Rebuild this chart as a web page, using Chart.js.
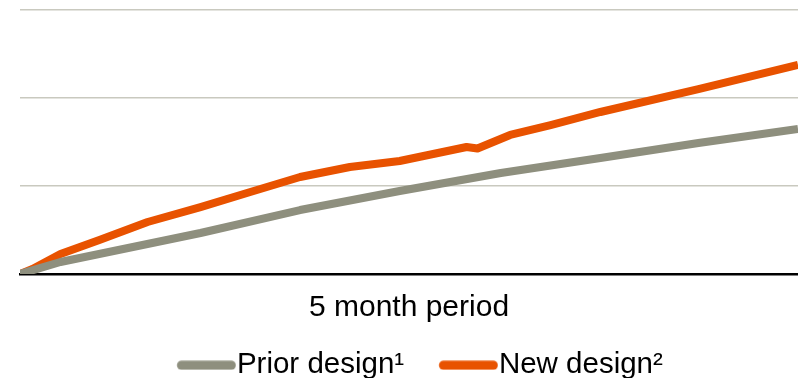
<!DOCTYPE html>
<html>
<head>
<meta charset="utf-8">
<script src="https://cdn.jsdelivr.net/npm/chart.js@4"></script>
<style>
  html, body { margin: 0; padding: 0; background: #fff; }
  #wrap { width: 798px; height: 378px; }
</style>
</head>
<body>
<div id="wrap"><canvas id="chart"></canvas></div>
<script>
// x in months over the 5 month period, y in arbitrary units (gridlines at 1, 2, 3)
var priorMonths = [0, 0.26, 1.16, 1.80, 2.44, 3.09, 3.73, 4.36, 5.0]
var priorValues = [0, 0.136, 0.466, 0.727, 0.943, 1.148, 1.318, 1.489, 1.648]

var newMonths = [0, 0.08, 0.26, 0.51, 0.82, 1.16, 1.48, 1.80, 2.12, 2.44, 2.87, 2.94, 3.15, 3.41, 3.73, 4.36, 5.0]
var newValues = [0, 0.057, 0.227, 0.386, 0.591, 0.761, 0.932, 1.102, 1.216, 1.284, 1.443, 1.426, 1.580, 1.693, 1.841, 2.102, 2.375]

var seriesLabels = ["Prior design\u00b9", "New design\u00b2"]
var seriesColors = ["#8e8f7e", "#e85200"]

function points(xs, ys) {
  return xs.map(function(x, i) { return {x: x, y: ys[i]} })
}

// rounded stroke used as the legend sample, sits just left of the label text
function marker(color) {
  var c = document.createElement("canvas")
  c.width = 95
  c.height = 10
  var g = c.getContext("2d")
  g.strokeStyle = color
  g.lineWidth = 9
  g.lineCap = "round"
  g.beginPath()
  g.moveTo(40.25, 5)
  g.lineTo(90.25, 5)
  g.stroke()
  return c
}

var font = "'Liberation Sans', Arial, sans-serif"

new Chart(document.getElementById("chart"), {
  type: "line",
  data: {
    datasets: [
      {
        label: seriesLabels[0],
        data: points(priorMonths, priorValues),
        borderColor: seriesColors[0],
        borderWidth: 8,
        pointRadius: 0,
        tension: 0,
        borderJoinStyle: "round",
        fill: false,
      },
      {
        label: seriesLabels[1],
        data: points(newMonths, newValues),
        borderColor: seriesColors[1],
        borderWidth: 8,
        pointRadius: 0,
        tension: 0,
        borderJoinStyle: "round",
        fill: false,
      },
    ],
  },
  options: {
    responsive: true,
    maintainAspectRatio: false,
    animation: false,
    layout: {
      padding: {left: 20, top: 10, right: 0, bottom: -12},
    },
    scales: {
      x: {
        type: "linear",
        min: 0,
        max: 5,
        ticks: {display: false},
        grid: {display: false, drawTicks: false},
        border: {display: true, color: "#000", width: 2.5},
        title: {
          display: true,
          text: "5 month period",
          color: "#000",
          font: {family: font, size: 30},
          padding: {top: 16, bottom: 11.5},
        },
      },
      y: {
        min: 0,
        max: 3,
        ticks: {display: false, stepSize: 1},
        grid: {color: "#c9c9bf", lineWidth: 1.5, drawTicks: false},
        border: {display: false},
      },
    },
    plugins: {
      tooltip: {enabled: false},
      legend: {
        position: "bottom",
        labels: {
          color: "#000",
          font: {family: font, size: 29.5},
          usePointStyle: true,
          pointStyleWidth: 67,
          padding: 13,
          generateLabels: function(chart) {
            return chart.data.datasets.map(function(ds, i) {
              return {
                text: ds.label,
                fillStyle: ds.borderColor,
                strokeStyle: ds.borderColor,
                fontColor: "#000",
                lineWidth: 0,
                pointStyle: marker(ds.borderColor),
                hidden: false,
                datasetIndex: i,
              }
            })
          },
        },
      },
    },
  },
})
</script>
</body>
</html>
